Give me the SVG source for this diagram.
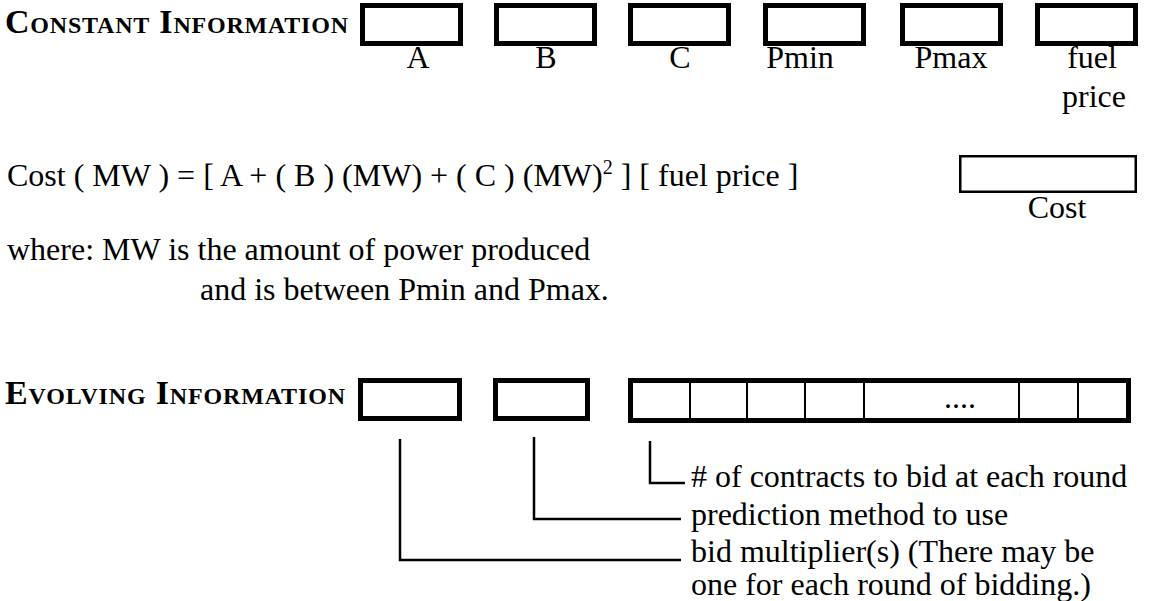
<svg xmlns="http://www.w3.org/2000/svg" width="1155" height="601" viewBox="0 0 1155 601">
<style>
.t{font-family:"Liberation Serif","Times New Roman",serif;font-size:32px;fill:#000}
.h{font-family:"Liberation Serif","Times New Roman",serif;font-size:34px;font-weight:bold;font-variant:small-caps;fill:#000}
.lbl{text-anchor:middle}
.bx{fill:#fff;stroke:#000;stroke-width:5}
.thin{fill:#fff;stroke:#000;stroke-width:2.5}
.div{stroke:#000;stroke-width:2}
.con{fill:none;stroke:#000;stroke-width:2.5}
</style>
<rect width="1155" height="601" fill="#fff"/>
<text id="constant-title" class="h" x="5" y="33" textLength="343" lengthAdjust="spacing">Constant Information</text>
<g id="box-A"><rect class="bx" x="362.5" y="5.5" width="98" height="38"/><text class="t lbl" x="418" y="68">A</text></g>
<g id="box-B"><rect class="bx" x="496.5" y="5.5" width="98" height="38"/><text class="t lbl" x="546" y="68">B</text></g>
<g id="box-C"><rect class="bx" x="630.5" y="5.5" width="98" height="38"/><text class="t lbl" x="680" y="68">C</text></g>
<g id="box-Pmin"><rect class="bx" x="765.5" y="5.5" width="98" height="38"/><text class="t lbl" x="800" y="68">Pmin</text></g>
<g id="box-Pmax"><rect class="bx" x="902.5" y="5.5" width="98" height="38"/><text class="t lbl" x="951" y="68">Pmax</text></g>
<g id="box-fuel"><rect class="bx" x="1037.5" y="5.5" width="98" height="38"/><text class="t lbl" x="1092" y="68">fuel</text><text class="t lbl" x="1094" y="107">price</text></g>
<text id="formula" class="t" x="7" y="186">Cost ( MW ) = [ A + ( B ) (MW) + ( C ) (MW)<tspan font-size="20" dy="-12">2</tspan><tspan dy="12"> ] [ fuel price ]</tspan></text>
<g id="box-Cost"><rect class="thin" x="960.25" y="156.25" width="175.5" height="35.5"/><text class="t lbl" x="1057" y="218">Cost</text></g>
<text class="t" x="7" y="260">where: MW is the amount of power produced</text>
<text class="t" x="200" y="300">and is between Pmin and Pmax.</text>
<text id="evolving-title" class="h" x="5" y="404" textLength="340" lengthAdjust="spacing">Evolving Information</text>
<g id="box-multiplier"><rect class="bx" x="360.5" y="380.5" width="99" height="38"/></g>
<g id="box-prediction"><rect class="bx" x="495.5" y="380.5" width="92" height="38"/></g>
<g id="box-contracts"><rect class="bx" x="630.5" y="380.5" width="498" height="40"/>
<line class="div" x1="690" y1="380" x2="690" y2="420"/>
<line class="div" x1="747" y1="380" x2="747" y2="420"/>
<line class="div" x1="805" y1="380" x2="805" y2="420"/>
<line class="div" x1="864" y1="380" x2="864" y2="420"/>
<line class="div" x1="1019" y1="380" x2="1019" y2="420"/>
<line class="div" x1="1078" y1="380" x2="1078" y2="420"/>
<text class="t lbl" x="960" y="408" font-size="20">....</text></g>
<g id="connectors">
<path class="con" d="M650 441 V483 H685"/>
<path class="con" d="M534 437 V519 H681"/>
<path class="con" d="M400 439 V560 H681"/>
</g>
<text class="t" x="691" y="487"># of contracts to bid at each round</text>
<text class="t" x="691" y="525">prediction method to use</text>
<text class="t" x="691" y="562">bid multiplier(s) (There may be</text>
<text class="t" x="691" y="595">one for each round of bidding.)</text>
</svg>
